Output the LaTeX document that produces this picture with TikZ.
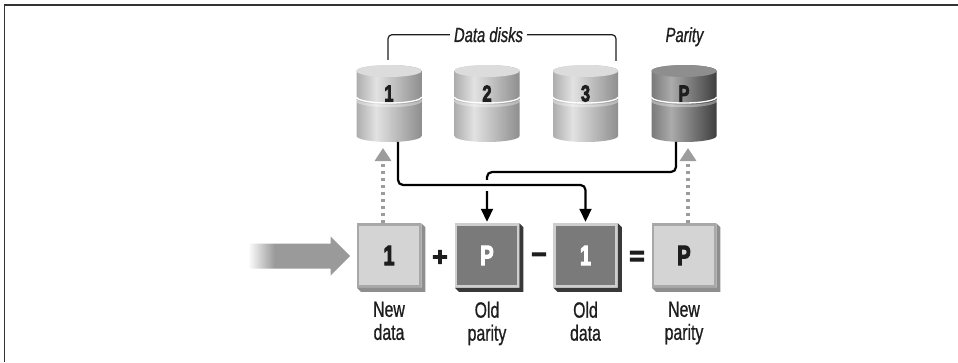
\documentclass[tikz,border=0pt]{standalone}
\usepackage{graphicx}
\usepackage{fontspec}
\setmainfont{Liberation Sans}[UprightFeatures={FakeBold=1},BoldFeatures={FakeBold=4},ItalicFeatures={FakeBold=1.2}]
\usetikzlibrary{arrows.meta,calc}

% condensed setting of a piece of text
\newcommand{\cond}[1]{\scalebox{0.72}[1]{#1}}

% palette
\definecolor{frameC}{HTML}{333333}
\definecolor{diskA}{HTML}{ADADAD}
\definecolor{diskB}{HTML}{E2E2E2}
\definecolor{diskC}{HTML}{8E8E8E}
\definecolor{diskTop}{HTML}{DCDCDC}
\definecolor{parA}{HTML}{7A7A7A}
\definecolor{parB}{HTML}{ABABAB}
\definecolor{parC}{HTML}{3E3E3E}
\definecolor{parTop}{HTML}{8E8E8E}
\definecolor{lightFill}{HTML}{D4D4D4}
\definecolor{lightEdge}{HTML}{A8A8A8}
\definecolor{lightShadow}{HTML}{8E8E8E}
\definecolor{darkFill}{HTML}{7A7A7A}
\definecolor{darkEdge}{HTML}{CECECE}
\definecolor{darkShadow}{HTML}{383838}
\definecolor{feedC}{HTML}{9A9A9A}
\definecolor{writeC}{HTML}{9C9C9C}
\definecolor{inkC}{HTML}{1E1E1E}

% cylinder body shadings (highlight left of centre)
\pgfdeclarehorizontalshading{datadisk}{100bp}{color(0bp)=(diskA); color(25bp)=(diskA); color(40bp)=(diskB); color(75bp)=(diskC); color(100bp)=(diskC)}
\pgfdeclarehorizontalshading{paritydisk}{100bp}{color(0bp)=(parA); color(25bp)=(parA); color(40bp)=(parB); color(75bp)=(parC); color(100bp)=(parC)}
% incoming arrow fading in from the left
\pgfdeclarehorizontalshading{feedfade}{100bp}{color(0bp)=(white); color(25bp)=(white); color(38bp)=(feedC); color(100bp)=(feedC)}

% a two-platter disk: #1 x centre, #2 body shading, #3 top colour
\newcommand{\drawdisk}[3]{%
  \shade[shading=#2] (#1-32.5,291) -- (#1-32.5,226)
    arc[start angle=180,end angle=360,x radius=32.5,y radius=6] -- (#1+32.5,291)
    arc[start angle=0,end angle=180,x radius=32.5,y radius=6] -- cycle;
  \fill[#3] (#1,291) ellipse[x radius=32.5,y radius=6];
  \draw[white,opacity=0.35,line width=2.5pt] (#1-32.5,262)
    arc[start angle=180,end angle=360,x radius=32.5,y radius=6];
  \draw[white,line width=1.3pt] (#1-32.5,265)
    arc[start angle=180,end angle=360,x radius=32.5,y radius=6];
}

% bevelled shadow under a box: #1 node name, #2 colour
\newcommand{\boxshadow}[2]{%
  \fill[#2] (#1.north east) -- ++(4,-4) -- ([shift={(4,-4)}]#1.south east)
    -- ([shift={(4,-4)}]#1.south west) -- (#1.south west) -- (#1.south east) -- cycle;
}

\tikzset{
  disknode/.style={rectangle,minimum width=65,minimum height=77,inner sep=0,outer sep=0},
  disklabel/.style={inner sep=0,text=inkC,font=\fontsize{23}{23}\selectfont\bfseries},
  lightbox/.style={rectangle,minimum size=62,line width=2.5pt,draw=lightEdge,fill=lightFill,
    inner sep=0,text=inkC,font=\fontsize{28}{28}\selectfont\bfseries},
  darkbox/.style={rectangle,minimum size=62,line width=2.5pt,draw=darkEdge,fill=darkFill,
    inner sep=0,text=white,font=\fontsize{28}{28}\selectfont\bfseries},
  opsign/.style={inner sep=0,text=inkC,font=\fontsize{26}{26}\selectfont\bfseries},
  caption/.style={anchor=north,align=center,inner sep=0,text=inkC,
    font=\fontsize{22}{23}\selectfont},
  heading/.style={anchor=base,inner sep=0,text=inkC,font=\fontsize{20.5}{20.5}\selectfont\itshape},
  bracket/.style={draw=inkC,line width=1.2pt,rounded corners=4pt},
  writeback/.style={draw=writeC,line width=4.5pt,dash pattern=on 3.5pt off 3.5pt,
    -{Triangle[width=16pt,length=13pt]}},
  readline/.style={draw=black,line width=2.2pt,rounded corners=5pt,shorten >=1.5pt,
    -{Triangle[width=12pt,length=13pt]}},
}

\begin{document}
\begin{tikzpicture}[x=1pt,y=1pt]
\useasboundingbox (0,0) rectangle (958,362);

% frame
\draw[frameC,line width=1.6pt] (958,357) -- (4.5,357) -- (4.5,0);

% disks
\drawdisk{389}{datadisk}{diskTop}
\drawdisk{487}{datadisk}{diskTop}
\drawdisk{585.5}{datadisk}{diskTop}
\drawdisk{684}{paritydisk}{parTop}
\node[disknode] (d1) at (389,258.5) {};
\node[disknode] (d2) at (487,258.5) {};
\node[disknode] (d3) at (585.5,258.5) {};
\node[disknode] (dP) at (684,258.5) {};
\node[disklabel] (d1l) at (389,268.5) {\cond{1}};
\node[disklabel] (d2l) at (487,268.5) {\cond{2}};
\node[disklabel] (d3l) at (585.5,268.5) {\cond{3}};
\node[disklabel] (dPl) at (684,268.5) {\cond{P}};

% headings
\node[heading] (dd) at (488.5,320) {\cond{Data disks}};
\node[heading] (par) at (684.5,320) {\cond{Parity}};
\draw[bracket] (388,302) |- ([xshift=-4]dd.west);
\draw[bracket] ([xshift=4]dd.east) -| (616,301);

% parity update boxes
\node[lightbox] (b1) at (389,106.5) {\cond{1}};
\node[darkbox]  (b2) at (487,106.5) {\cond{P}};
\node[darkbox]  (b3) at (585.5,106.5) {\cond{1}};
\node[lightbox] (b4) at (684,106.5) {\cond{P}};
\boxshadow{b1}{lightShadow}
\boxshadow{b2}{darkShadow}
\boxshadow{b3}{darkShadow}
\boxshadow{b4}{lightShadow}

% operators
\node[opsign] (plus) at (440,104) {+};
\node[opsign] (minus) at (539,104) {−};
\node[opsign] (equals) at (637,104) {=};

% captions
\node[caption] (c1) at (389,60.5) {\cond{New}\\\cond{data}};
\node[caption] (c2) at (487,60.5) {\cond{Old}\\\cond{parity}};
\node[caption] (c3) at (585.5,60.5) {\cond{Old}\\\cond{data}};
\node[caption] (c4) at (684,60.5) {\cond{New}\\\cond{parity}};

% incoming write, fading in from the left
\shade[shading=feedfade] (248,93.5) -- (330.5,93.5) -- (330.5,86.5) -- (350,106)
  -- (330.5,125.5) -- (330.5,118.5) -- (248,118.5) -- cycle;
\coordinate (feedtip) at (350,106);

% write-back arrows
\draw[writeback] ([xshift=-6]b1.north) -- ([xshift=-6,yshift=-6]d1.south);
\draw[writeback] ([xshift=4]b4.north) -- ([xshift=4,yshift=-6]dP.south);

% reads of old parity and old data
\coordinate (k1) at ($(b3.north)+(0,38.25)$);
\coordinate (k2) at ($(b2.north)+(0,51.25)$);
\draw[readline] ([xshift=-8]dP.south) |- (k2) -- (b2.north);
\draw[white,line width=4pt] ($(b2.north |- k1)+(0,5.5)$) -- ($(b2.north |- k1)+(0,-5.5)$);
\draw[readline] ([xshift=9]d1.south) |- (k1) -- (b3.north);
\end{tikzpicture}
\end{document}
